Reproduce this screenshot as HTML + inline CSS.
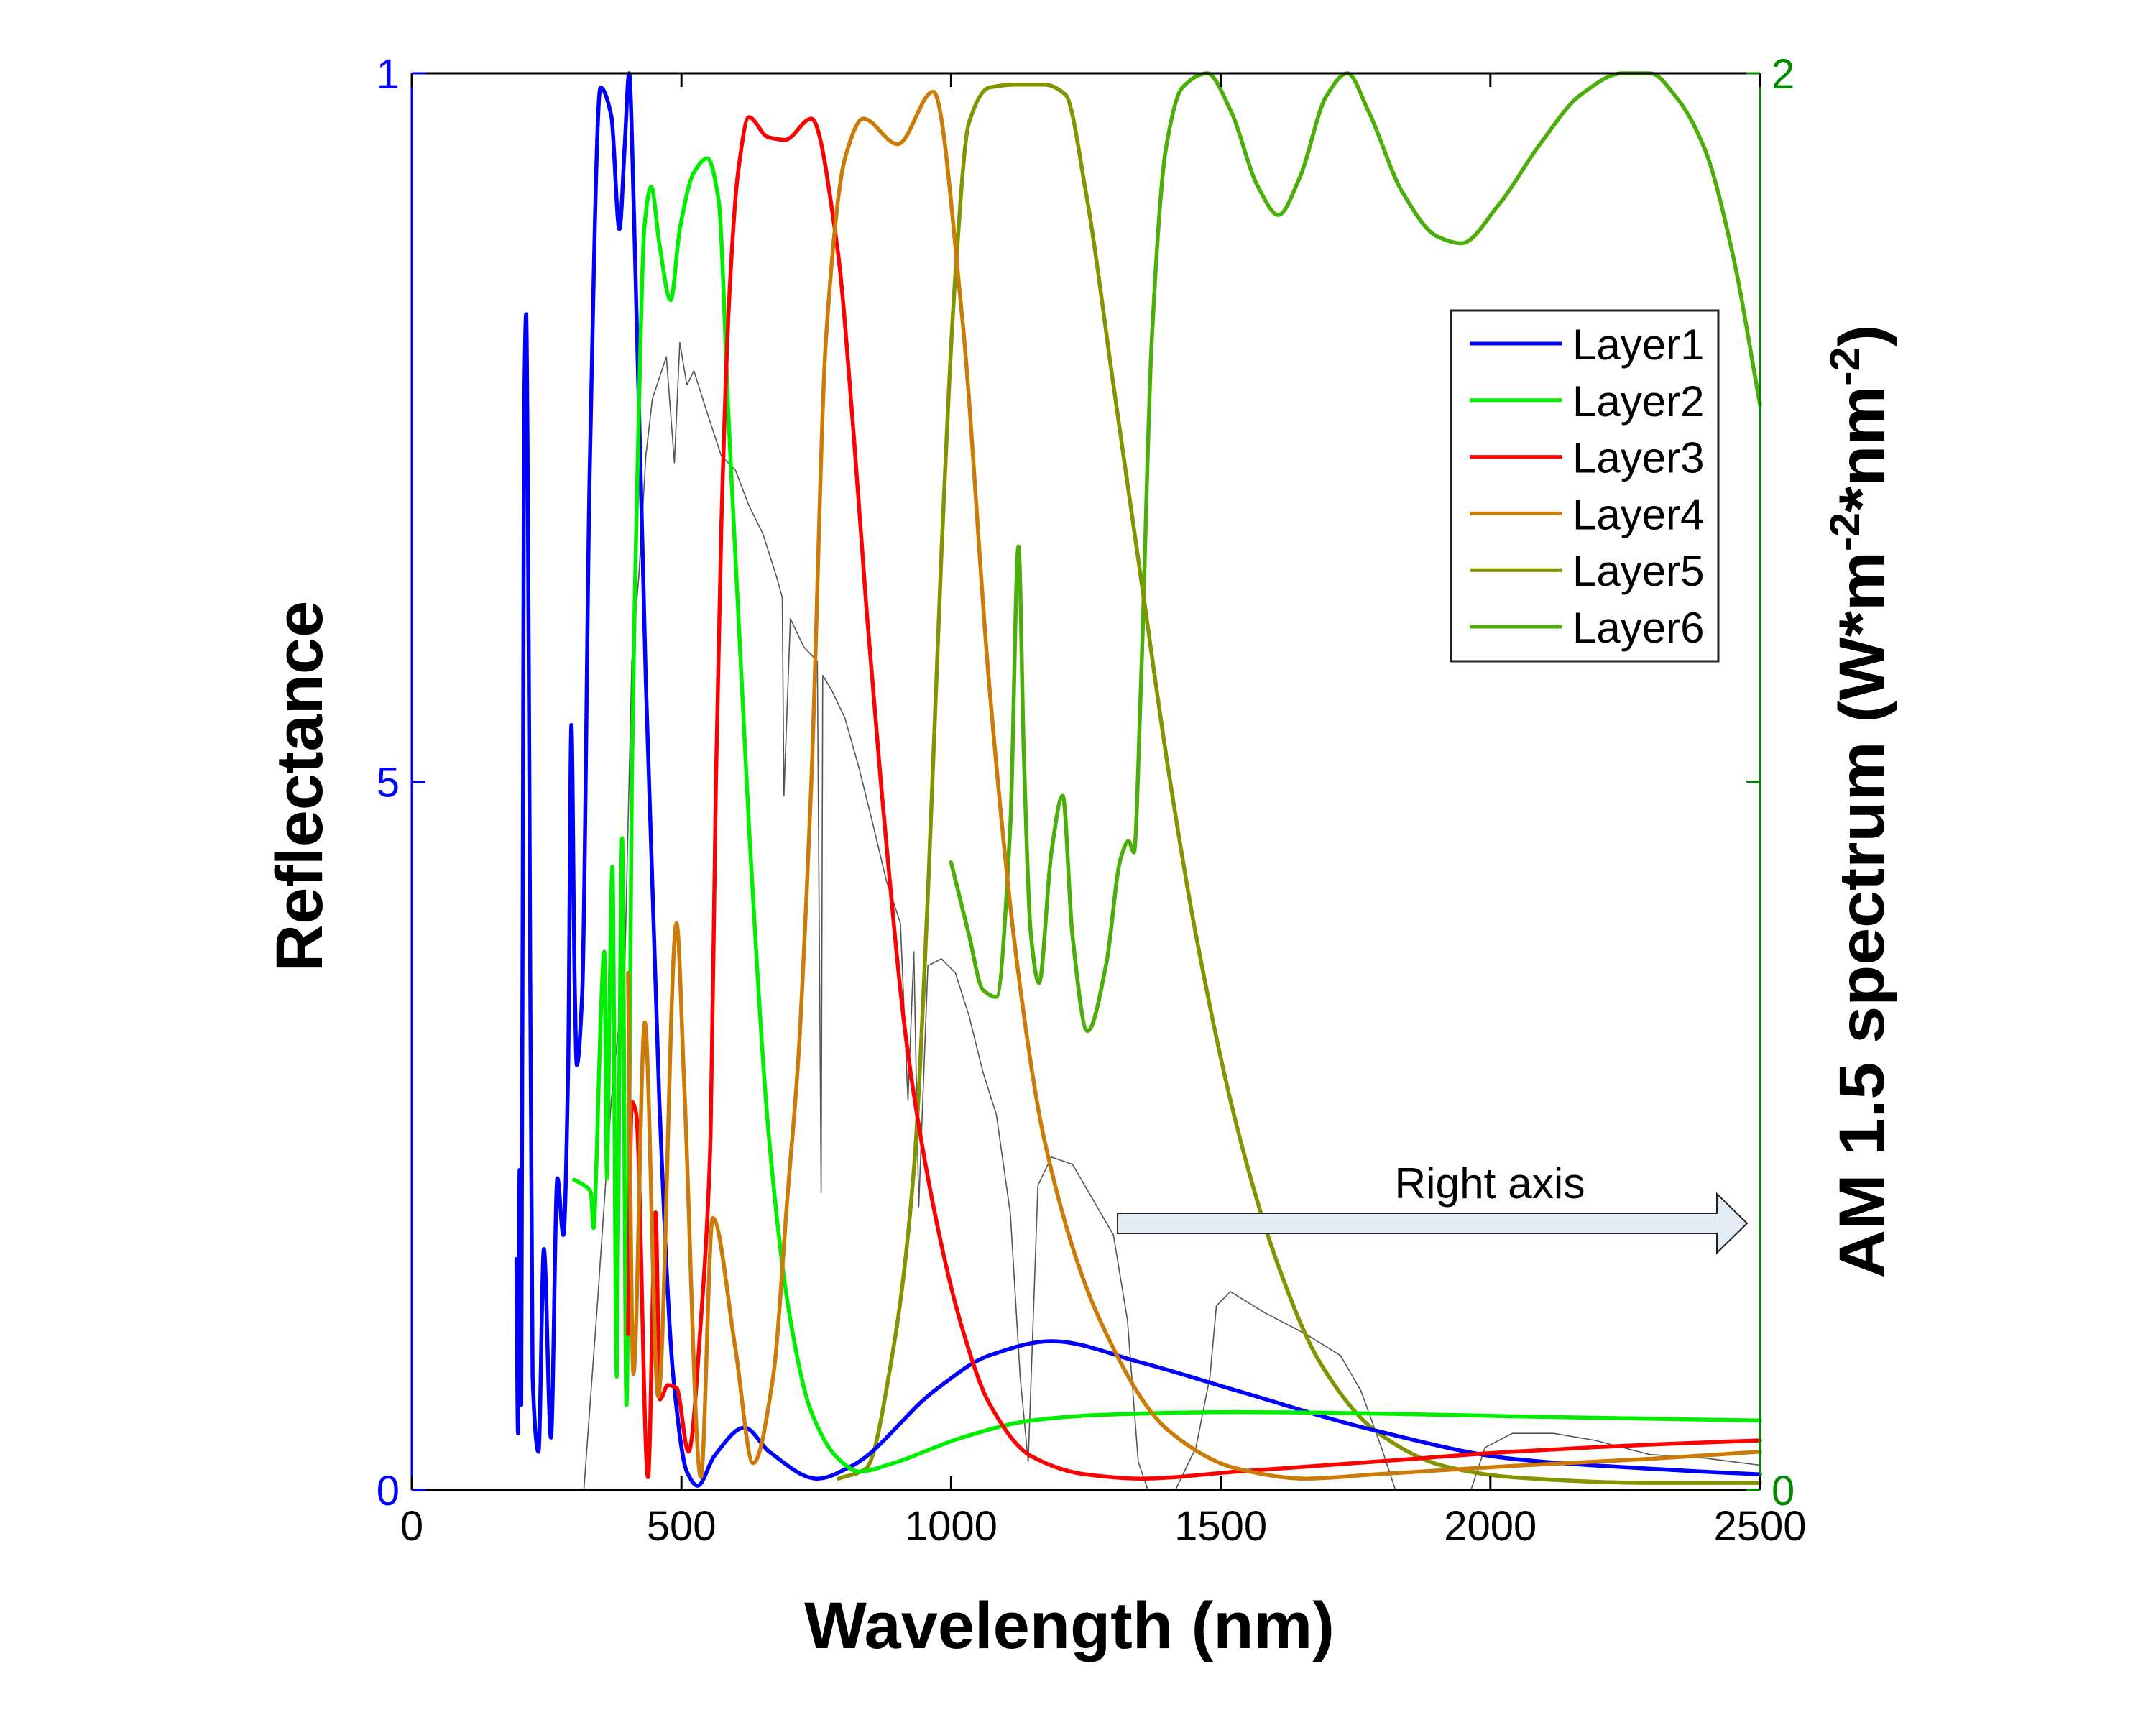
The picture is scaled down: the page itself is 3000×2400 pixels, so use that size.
<!DOCTYPE html>
<html><head><meta charset="utf-8">
<style>
html,body{margin:0;padding:0;background:#fff;}
svg{display:block;}
text{font-family:"Liberation Sans",Arial,sans-serif;}
</style></head>
<body>
<svg id="chart" width="3000" height="2400" viewBox="0 0 3000 2400" xmlns="http://www.w3.org/2000/svg">
<rect x="0" y="0" width="3000" height="2400" fill="#fff"/>
<g id="series"></g>
<g id="axes"></g>
<g id="legend">
  <rect x="2019" y="432" width="372" height="488" fill="#fff" stroke="#222" stroke-width="3"/>
</g>
<g>
  <polygon points="1555,1688 2389,1688 2389,1661 2431,1702 2389,1743 2389,1716 1555,1716" fill="#e3ebf5" stroke="#222" stroke-width="2"/>
  <text x="2073" y="1667" font-size="60" text-anchor="middle" textLength="265" lengthAdjust="spacingAndGlyphs">Right axis</text>
</g>
<text x="1488" y="2293" font-size="92" font-weight="bold" text-anchor="middle">Wavelength (nm)</text>
<text transform="translate(448,1094) rotate(-90)" font-size="92" font-weight="bold" text-anchor="middle">Reflectance</text>
<text transform="translate(2621,1115) rotate(-90)" font-size="89" font-weight="bold" text-anchor="middle" textLength="1327" lengthAdjust="spacingAndGlyphs">AM 1.5 spectrum (W*m<tspan font-size="58" dy="-34">-2</tspan><tspan dy="34">*nm</tspan><tspan font-size="58" dy="-34">-2</tspan><tspan dy="34">)</tspan></text>
</svg>
<script>
// ---- data ----
const xTicks = [0, 500, 1000, 1500, 2000, 2500];
const xTickLabels = ["0", "500", "1000", "1500", "2000", "2500"];
const leftTickValues = [0, 0.5, 1];
const leftTickLabels = ["0", "5", "1"];
const rightTickValues = [0, 1, 2];
const rightTickLabels = ["0", "", "2"];
const seriesNames = ["Layer1", "Layer2", "Layer3", "Layer4", "Layer5", "Layer6"];

const layer1Wl = [194,197,200,203,208,212,215,218,224,235,245,258,270,281,290,296,302,306,316,330,350,370,385,395,403,412,434,459,485,510,530,561,617,663,752,816,969,1071,1186,1352,1531,1786,2041,2296,2500];
const layer1R  = [0.163,0.04,0.226,0.06,0.75,0.83,0.72,0.5,0.08,0.027,0.17,0.037,0.22,0.18,0.3,0.54,0.36,0.30,0.35,0.72,0.99,0.97,0.89,0.95,1.0,0.9,0.57,0.275,0.08,0.013,0.003,0.024,0.044,0.027,0.008,0.017,0.07,0.095,0.105,0.09,0.07,0.042,0.022,0.015,0.011];

const layer2Wl = [301,320,332,337,344,350,357,362,367,372,380,385,390,398,404,408,414,421,431,444,459,480,497,523,548,569,587,625,663,702,740,791,829,893,1020,1148,1276,1531,1786,2041,2500];
const layer2R  = [0.219,0.215,0.21,0.185,0.25,0.33,0.38,0.22,0.35,0.44,0.08,0.3,0.46,0.06,0.3,0.5,0.64,0.76,0.89,0.92,0.88,0.84,0.89,0.93,0.94,0.91,0.76,0.47,0.246,0.12,0.056,0.022,0.013,0.019,0.037,0.049,0.053,0.055,0.054,0.052,0.049];

const layer3Wl = [401,408,416,438,452,460,475,491,513,538,549,554,564,574,589,605,625,660,692,741,789,819,844,870,918,969,1020,1071,1148,1250,1352,1531,1786,2041,2296,2500];
const layer3R  = [0.11,0.274,0.266,0.009,0.196,0.064,0.074,0.072,0.027,0.13,0.2,0.25,0.5,0.68,0.844,0.93,0.969,0.955,0.953,0.968,0.877,0.747,0.618,0.499,0.314,0.197,0.115,0.061,0.024,0.011,0.008,0.013,0.02,0.027,0.032,0.035];

const layer4Wl = [401,411,432,457,491,505,536,558,600,633,670,697,717,732,741,768,804,837,901,967,1020,1071,1122,1173,1276,1403,1531,1658,1786,2041,2296,2500];
const layer4R  = [0.365,0.082,0.33,0.066,0.40,0.287,0.009,0.192,0.1,0.019,0.08,0.209,0.306,0.42,0.5,0.812,0.941,0.968,0.95,0.987,0.83,0.567,0.373,0.247,0.12,0.042,0.015,0.008,0.011,0.017,0.022,0.027];

const layer5Wl = [791,842,893,931,957,982,1008,1033,1071,1122,1173,1212,1250,1301,1352,1403,1454,1531,1607,1684,1786,1913,2041,2296,2500];
const layer5R  = [0.008,0.015,0.1,0.226,0.42,0.66,0.858,0.965,0.99,0.992,0.992,0.985,0.916,0.78,0.644,0.508,0.392,0.255,0.158,0.09,0.042,0.017,0.009,0.005,0.005];

const layer6Wl = [1000,1033,1059,1084,1110,1125,1135,1148,1163,1186,1207,1225,1253,1288,1314,1329,1339,1352,1372,1398,1429,1475,1518,1569,1607,1646,1696,1735,1773,1837,1901,1946,2015,2092,2168,2245,2296,2347,2398,2449,2500];
const layer6R  = [0.443,0.392,0.353,0.348,0.47,0.666,0.518,0.392,0.358,0.45,0.49,0.392,0.324,0.372,0.445,0.458,0.45,0.567,0.81,0.946,0.99,1.0,0.974,0.92,0.9,0.926,0.984,1.0,0.974,0.916,0.885,0.88,0.907,0.95,0.985,1.0,1.0,0.982,0.946,0.873,0.766];

const am15Wl = [306,319,344,370,395,408,421,434,446,472,487,497,510,523,548,574,600,625,651,676,687,690,702,727,752,759,762,778,803,829,855,880,906,920,931,940,957,982,1008,1033,1059,1084,1110,1128,1143,1161,1186,1225,1263,1301,1327,1347,1365,1416,1454,1480,1492,1518,1582,1658,1722,1760,1798,1824,1964,1990,2041,2117,2194,2296,2398,2500];
const am15V  = [0,0,0.26,0.55,0.74,1.17,1.29,1.46,1.54,1.60,1.45,1.62,1.56,1.58,1.52,1.46,1.44,1.39,1.35,1.29,1.26,0.98,1.23,1.19,1.17,0.42,1.15,1.13,1.09,1.02,0.94,0.86,0.80,0.55,0.76,0.40,0.74,0.75,0.73,0.67,0.59,0.53,0.39,0.16,0.04,0.43,0.47,0.46,0.41,0.36,0.24,0.04,0,0,0.06,0.16,0.26,0.28,0.25,0.22,0.19,0.14,0.06,0,0,0.06,0.08,0.08,0.07,0.05,0.045,0.035];

// ---- layout ----
const L = 573, R = 2449, T = 102, B = 2073;
const xScale = v => L + (v / 2500) * (R - L);
const yLeft = v => B - v * (B - T);
const yRight = v => B - (v / 2) * (B - T);
const NS = "http://www.w3.org/2000/svg";
const gS = document.getElementById('series');
const gA = document.getElementById('axes');
const gL = document.getElementById('legend');

function mk(tag, attrs, parent) {
  const e = document.createElementNS(NS, tag);
  for (const k in attrs) e.setAttribute(k, attrs[k]);
  parent.appendChild(e);
  return e;
}
function pathD(xs, ys, yf) {
  let d = "";
  for (let i = 0; i < xs.length; i++) d += (i ? "L" : "M") + xScale(xs[i]).toFixed(1) + "," + yf(ys[i]).toFixed(1);
  return d;
}
// monotone cubic (Fritsch-Carlson) smoothing
function smoothD(xs, ys, yf) {
  const n = xs.length;
  const X = xs.map(xScale), Y = ys.map(yf);
  const d = [], m = new Array(n);
  for (let i = 0; i < n - 1; i++) d.push((Y[i + 1] - Y[i]) / (X[i + 1] - X[i]));
  m[0] = d[0]; m[n - 1] = d[n - 2];
  for (let i = 1; i < n - 1; i++) {
    if (d[i - 1] * d[i] <= 0) m[i] = 0;
    else {
      const w1 = 2 * (X[i + 1] - X[i]) + (X[i] - X[i - 1]);
      const w2 = (X[i + 1] - X[i]) + 2 * (X[i] - X[i - 1]);
      m[i] = (w1 + w2) / (w1 / d[i - 1] + w2 / d[i]);
    }
  }
  let s = "M" + X[0].toFixed(1) + "," + Y[0].toFixed(1);
  for (let i = 0; i < n - 1; i++) {
    const h = (X[i + 1] - X[i]) / 3;
    s += "C" + (X[i] + h).toFixed(1) + "," + (Y[i] + m[i] * h).toFixed(1) + " " +
         (X[i + 1] - h).toFixed(1) + "," + (Y[i + 1] - m[i + 1] * h).toFixed(1) + " " +
         X[i + 1].toFixed(1) + "," + Y[i + 1].toFixed(1);
  }
  return s;
}

// spectrum (right axis)
const spec = mk('path', {d: pathD(am15Wl, am15V, yRight), fill: 'none', stroke: '#555', 'stroke-width': 1.6, 'stroke-linejoin': 'round'}, gS);



const layerX = [layer1Wl, layer2Wl, layer3Wl, layer4Wl, layer5Wl, layer6Wl];
const layerY = [layer1R, layer2R, layer3R, layer4R, layer5R, layer6R];
const colors = ['#0000ff', '#00ee00', '#ff0000', '#cc7a08', '#849400', '#4cae08'];
const drawOrder = [5, 4, 0, 1, 2, 3];
drawOrder.forEach(i => {
  const p = mk('path', {d: smoothD(layerX[i], layerY[i], yLeft), fill: 'none', stroke: colors[i], 'stroke-width': 5.5, 'stroke-linejoin': 'round', 'stroke-linecap': 'round'}, gS);
  
  
});

// axes lines
const ax1 = mk('line', {x1: L, y1: B, x2: R, y2: B, stroke: '#000', 'stroke-width': 3}, gA);


const ax2 = mk('line', {x1: L, y1: T, x2: R, y2: T, stroke: '#000', 'stroke-width': 3}, gA);


const ax3 = mk('line', {x1: L, y1: T, x2: L, y2: B, stroke: '#0000ff', 'stroke-width': 3}, gA);


const ax4 = mk('line', {x1: R, y1: T, x2: R, y2: B, stroke: '#008800', 'stroke-width': 3}, gA);



xTicks.forEach((v, i) => {
  const x = xScale(v);
  const t1 = mk('line', {x1: x, y1: B, x2: x, y2: B - 19, stroke: '#000', 'stroke-width': 3}, gA);
  
  
  const t2 = mk('line', {x1: x, y1: T, x2: x, y2: T + 19, stroke: '#000', 'stroke-width': 3}, gA);
  
  
  const lb = mk('text', {x: x, y: 2143, 'font-size': 58, 'text-anchor': 'middle', fill: '#000'}, gA);
  lb.textContent = xTickLabels[i];
  
  
});
leftTickValues.forEach((v, i) => {
  const y = yLeft(v);
  const t = mk('line', {x1: L, y1: y, x2: L + 19, y2: y, stroke: '#0000ff', 'stroke-width': 3}, gA);
  
  
  const lb = mk('text', {x: 556, y: y + 21, 'font-size': 58, 'text-anchor': 'end', fill: '#0000ff'}, gA);
  lb.textContent = leftTickLabels[i];
  
  
});
rightTickValues.forEach((v, i) => {
  const y = yRight(v);
  const t = mk('line', {x1: R, y1: y, x2: R - 19, y2: y, stroke: '#008800', 'stroke-width': 3}, gA);
  
  
  const lb = mk('text', {x: 2465, y: y + 21, 'font-size': 58, 'text-anchor': 'start', fill: '#008800'}, gA);
  lb.textContent = rightTickLabels[i];
  
  
});

// legend entries
seriesNames.forEach((n, i) => {
  const y = 478 + i * 78.8;
  const ln = mk('line', {x1: 2045, y1: y, x2: 2173, y2: y, stroke: colors[i], 'stroke-width': 5}, gL);
  
  
  const tx = mk('text', {x: 2188, y: y + 22, 'font-size': 60, fill: '#000'}, gL);
  tx.textContent = n;
  
  
});
</script>
</body></html>
